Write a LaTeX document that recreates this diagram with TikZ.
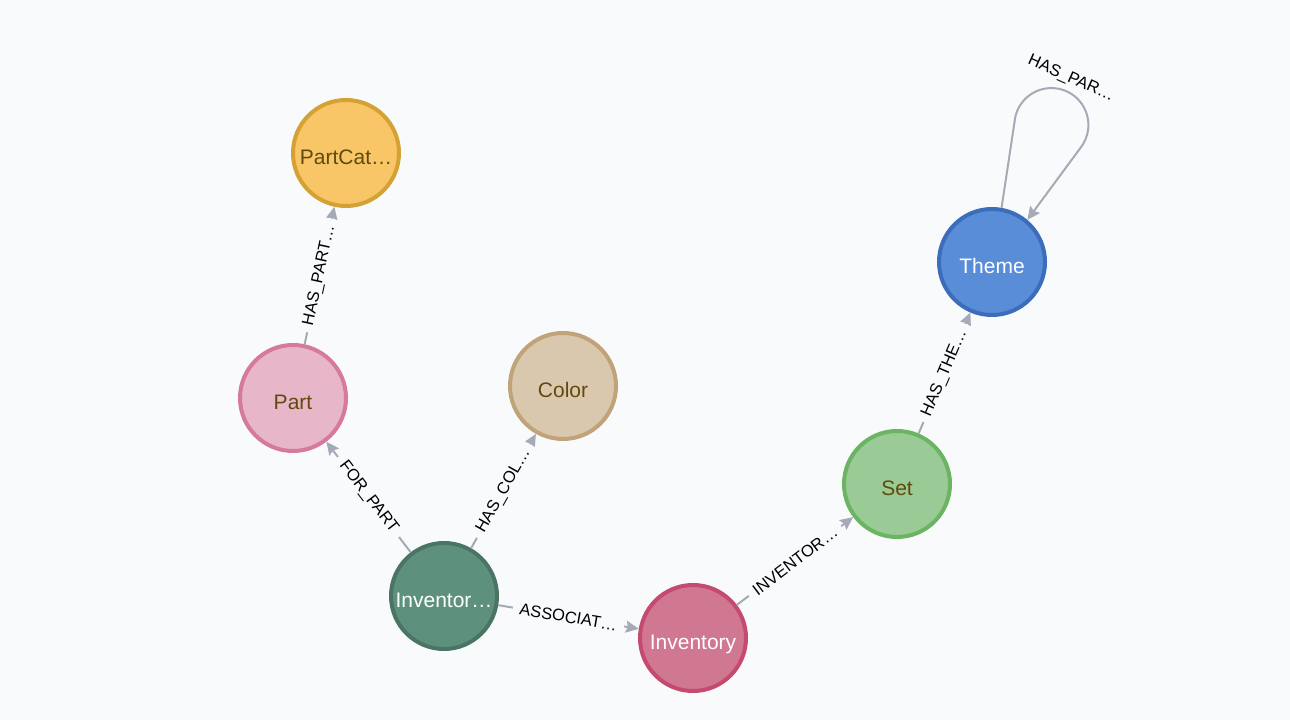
\documentclass[tikz,border=0pt]{standalone}
\usepackage{fontspec}
\setmainfont{Liberation Sans}
\usetikzlibrary{arrows.meta}

\begin{document}
\begin{tikzpicture}[x=1pt,y=1pt,
  gnode/.style={circle, minimum size=106pt, inner sep=0pt, line width=4pt,
    text height=23pt, text depth=0pt, font=\fontsize{21}{25}\selectfont},
  edgeline/.style={draw=edgegray, line width=2pt,
    -{Stealth[length=13pt,width=12pt,inset=2pt]}},
  elabel/.style={midway, sloped, fill=bgcol, inner xsep=7pt, inner ysep=3pt,
    font=\fontsize{16.5}{19}\selectfont}]
  % Define colors
  \definecolor{bgcol}{HTML}{F9FAFB}
  \definecolor{edgegray}{HTML}{A5ABB6}
  \definecolor{darktext}{HTML}{604A0E}
  \definecolor{pcfill}{HTML}{F8C567}
  \definecolor{pcline}{HTML}{D4A234}
  \definecolor{partfill}{HTML}{E7B7C9}
  \definecolor{partline}{HTML}{D57A9C}
  \definecolor{colfill}{HTML}{D9C8AE}
  \definecolor{colline}{HTML}{C0A378}
  \definecolor{itemfill}{HTML}{5E917D}
  \definecolor{itemline}{HTML}{4A7565}
  \definecolor{invfill}{HTML}{D07792}
  \definecolor{invline}{HTML}{C54A70}
  \definecolor{setfill}{HTML}{9ACA95}
  \definecolor{setline}{HTML}{6BB464}
  \definecolor{themefill}{HTML}{5A8DD8}
  \definecolor{themeline}{HTML}{3B6DBC}

  % Background
  \fill[bgcol] (0,0) rectangle (1290,720);

  % Nodes
  \node[gnode, fill=pcfill, draw=pcline, text=darktext] (partcat) at (346,567) {PartCat…};
  \node[gnode, fill=partfill, draw=partline, text=darktext] (part) at (293,322) {Part};
  \node[gnode, fill=colfill, draw=colline, text=darktext] (color) at (563,334) {Color};
  \node[gnode, fill=itemfill, draw=itemline, text=white] (invitem) at (444,124) {Inventor…};
  \node[gnode, fill=invfill, draw=invline, text=white] (inventory) at (693,82) {Inventory};
  \node[gnode, fill=setfill, draw=setline, text=darktext] (set) at (897,236) {Set};
  \node[gnode, fill=themefill, draw=themeline, text=white] (theme) at (992,458) {Theme};

  % Relationships
  \draw[edgeline] (part) -- (partcat) node[elabel] {HAS\_PART…};
  \draw[edgeline] (invitem) -- (part) node[elabel] {FOR\_PART};
  \draw[edgeline] (invitem) -- (color) node[elabel] {HAS\_COL…};
  \draw[edgeline] (invitem) -- (inventory) node[elabel] {ASSOCIAT…};
  \draw[edgeline] (inventory) -- (set) node[elabel] {INVENTOR…};
  \draw[edgeline] (set) -- (theme) node[elabel] {HAS\_THE…};

  % Self loop on Theme
  \draw[edgeline] (theme.80) -- ++(13,86) arc[start angle=175, end angle=-40, radius=37] -- (theme.50);
  \node[rotate=-24, font=\fontsize{16.5}{19}\selectfont] (looplabel) at (1071,641) {HAS\_PAR…};
\end{tikzpicture}
\end{document}
